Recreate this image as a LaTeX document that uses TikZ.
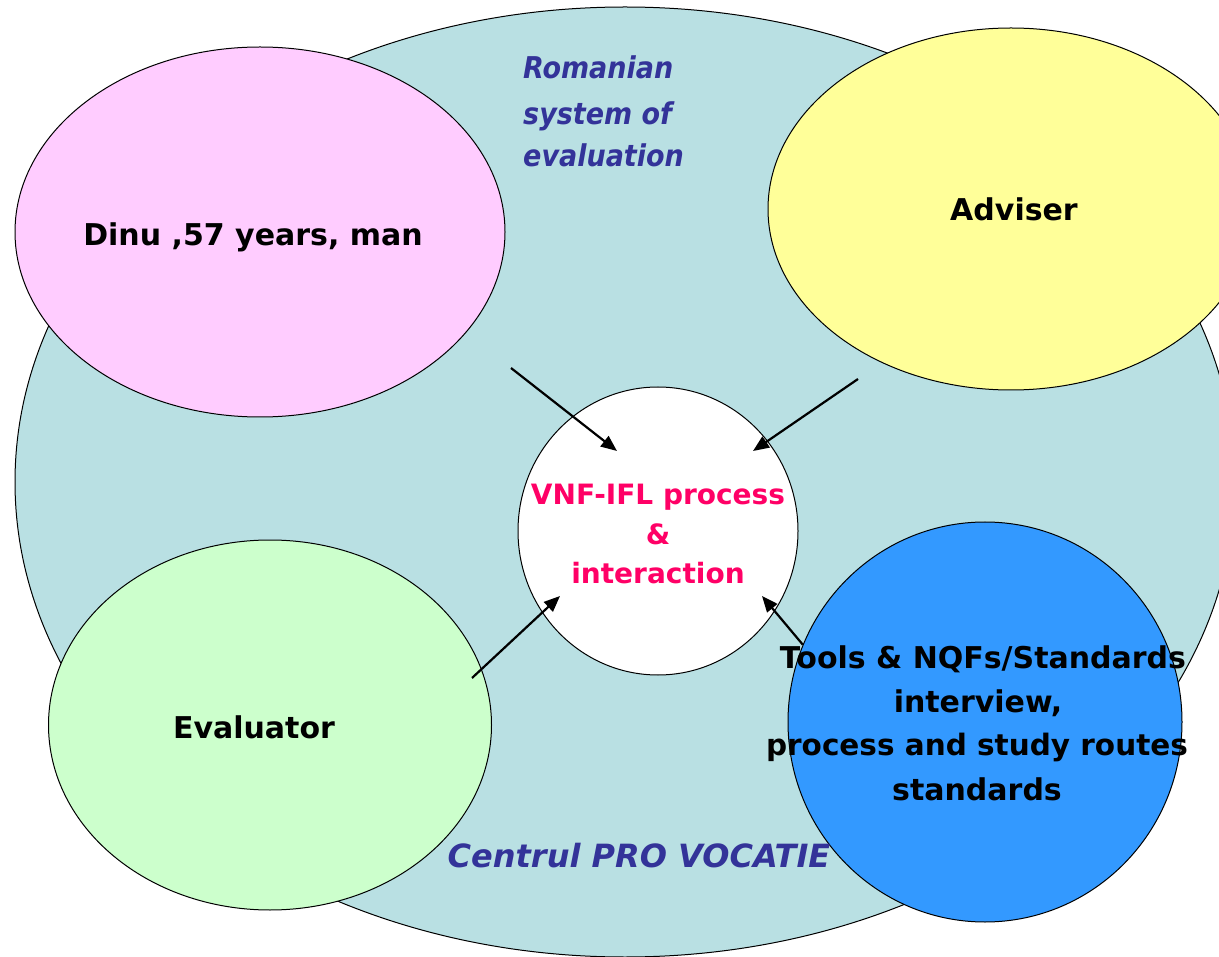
\documentclass[tikz,border=0pt]{standalone}
\usepackage{fontspec}
\setmainfont{DejaVu Sans}
\newfontfamily\condfont{DejaVu Sans Condensed}
\usetikzlibrary{shapes.geometric,arrows.meta}
\definecolor{bigfill}{HTML}{B9E0E3}
\definecolor{pinkfill}{HTML}{FFCCFF}
\definecolor{yellowfill}{HTML}{FFFF99}
\definecolor{greenfill}{HTML}{CCFFCC}
\definecolor{bluefill}{HTML}{3399FF}
\definecolor{pinktext}{HTML}{FF0066}
\definecolor{bluetext}{HTML}{333399}
\tikzset{
  blob/.style={ellipse, draw=black, line width=1pt, inner sep=0pt},
  lbl/.style={font=\bfseries\fontsize{30}{44}\selectfont, text=black, inner sep=0pt, align=center},
  centertxt/.style={font=\bfseries\fontsize{28}{39}\selectfont, text=pinktext, inner sep=0pt, align=center},
  ittxt/.style={text=bluetext, inner sep=0pt},
  arr/.style={line width=2.2pt, -{Triangle[length=16pt,width=13pt]}}
}
\begin{document}
\begin{tikzpicture}[x=1pt,y=-1pt]
\useasboundingbox (0,0) rectangle (1219,957);
\clip (0,0) rectangle (1219,957);
% big background ellipse
\node[blob, fill=bigfill, minimum width=1220pt, minimum height=950pt] (big) at (625,482) {};
% satellites
\node[blob, fill=pinkfill, minimum width=490pt, minimum height=370pt] (dinu) at (260,232) {};
\node[blob, fill=yellowfill, minimum width=486pt, minimum height=362pt] (adviser) at (1011,209) {};
\node[blob, fill=greenfill, minimum width=443pt, minimum height=370pt] (evaluator) at (270,725) {};
\node[blob, fill=bluefill, minimum width=394pt, minimum height=400pt] (tools) at (985,722) {};
% center
\node[blob, fill=white, minimum width=280pt, minimum height=288pt] (vnf) at (658,531) {};
% arrows
\coordinate (a1s) at (511,368); \coordinate (a1e) at (617,451);
\coordinate (a2s) at (858,379); \coordinate (a2e) at (753,451);
\coordinate (a3s) at (472,678); \coordinate (a3e) at (560,596);
\coordinate (a4e) at (762,596);
\draw[arr] (a1s) -- (a1e);
\draw[arr] (a2s) -- (a2e);
\draw[arr] (a3s) -- (a3e);
\draw[arr] (tools.157) -- (a4e);
% texts
\node[lbl, anchor=base] (tdinu) at (253,246) {Dinu ,57 years, man};
\node[lbl, anchor=base] (tadv) at (1014,221) {Adviser};
\node[lbl, anchor=base] (teval) at (254,738) {Evaluator};
\node[centertxt, anchor=base] (tvnf1) at (658,505) {VNF-IFL process};
\node[centertxt, anchor=base] (tvnf2) at (658,544) {\&};
\node[centertxt, anchor=base] (tvnf3) at (658,583) {interaction};
\node[lbl, anchor=base] (tt1) at (983,668) {Tools \& NQFs/Standards};
\node[lbl, anchor=base] (tt2) at (978,712) {interview,};
\node[lbl, anchor=base, font=\bfseries\fontsize{29.5}{44}\selectfont] (tt3) at (977,755) {process and study routes};
\node[lbl, anchor=base] (tt4) at (977,800) {standards};
\node[ittxt, anchor=base west, font=\condfont\bfseries\itshape\fontsize{30}{42}\selectfont] (rom1) at (523,79) {Romanian};
\node[ittxt, anchor=base west, font=\condfont\bfseries\itshape\fontsize{30}{42}\selectfont] (rom2) at (523,125) {system of};
\node[ittxt, anchor=base west, font=\condfont\bfseries\itshape\fontsize{30}{42}\selectfont] (rom3) at (523,167) {evaluation};
\node[ittxt, anchor=base, font=\bfseries\itshape\fontsize{32}{40}\selectfont] (centrul) at (639,867) {Centrul PRO VOCATIE};
\end{tikzpicture}
\end{document}
